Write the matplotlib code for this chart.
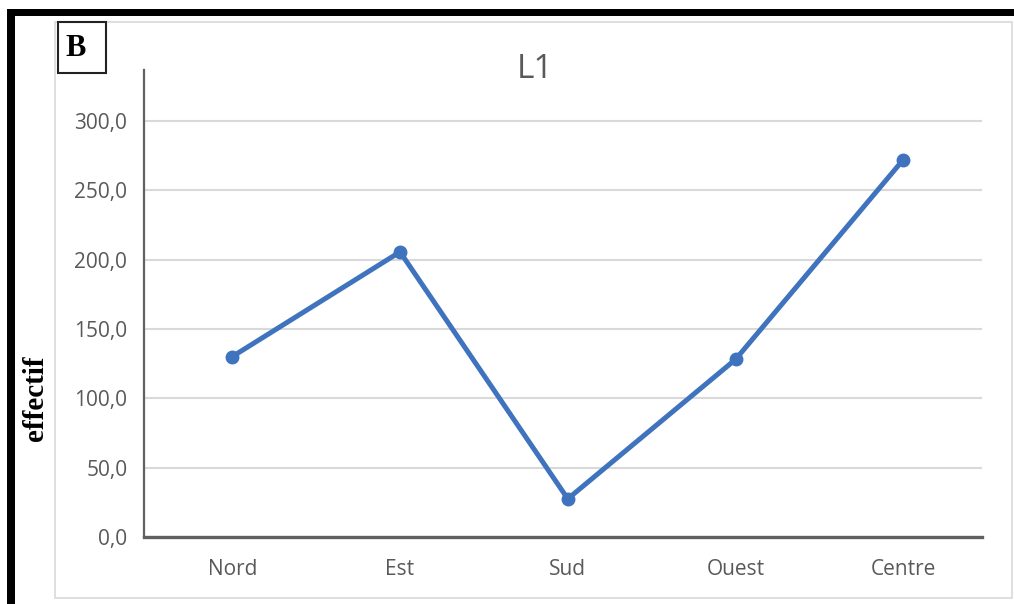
import matplotlib
matplotlib.use("Agg")
import matplotlib.pyplot as plt
from matplotlib.patches import Rectangle
from matplotlib.ticker import FuncFormatter

regions = ["Nord", "Est", "Sud", "Ouest", "Centre"]
effectif = [130, 205.5, 27.5, 128, 272]
y_ticks = [0, 50, 100, 150, 200, 250, 300]

W, H = 1014, 604
fig = plt.figure(figsize=(W / 100, H / 100), dpi=100)


def px(x0, y0, x1, y1):
    # pixel box (top-left origin) -> figure fraction rect
    return (x0 / W, 1 - y1 / H, (x1 - x0) / W, (y1 - y0) / H)


# axes placed on the pixel grid of the reference
l, b, w, h = px(144, 70, 982, 537)
ax = fig.add_axes([l, b, w, h])

line_col = "#3f73bd"
ax.plot(range(len(regions)), effectif, color=line_col, lw=3.6,
        marker="o", markersize=9, solid_capstyle="round", zorder=3)

ax.set_xlim(-0.526, 4.469)
ax.set_ylim(0, 336.6)
ax.set_xticks(range(len(regions)))
ax.set_xticklabels(regions)
ax.set_yticks(y_ticks)
ax.yaxis.set_major_formatter(FuncFormatter(lambda v, p: f"{v:.1f}".replace(".", ",")))
ax.grid(axis="y", color="#d9d9d9", lw=1.5)
ax.set_axisbelow(True)

for s in ["top", "right"]:
    ax.spines[s].set_visible(False)
ax.spines["left"].set_color("#606060")
ax.spines["left"].set_linewidth(1.6)
ax.spines["bottom"].set_color("#606060")
ax.spines["bottom"].set_linewidth(2.4)

ax.tick_params(length=0, labelsize=15, labelcolor="#595959")
ax.tick_params(axis="y", pad=12)
ax.tick_params(axis="x", pad=15.5)
for t in ax.get_xticklabels() + ax.get_yticklabels():
    t.set_fontfamily("Open Sans")

# title sits left of the axes centre in the reference
fig.text(535 / W, 1 - 70 / H, "L1", ha="center", va="center",
         fontsize=24, color="#595959", family="Open Sans")

fig.text(35 / W, 1 - 398 / H, "effectif", rotation=90, ha="center", va="center",
         family="Liberation Serif", fontweight="bold", fontsize=21)

# frame decorations
fig.add_artist(Rectangle(px(55, 22, 1012, 598)[:2], *px(55, 22, 1012, 598)[2:],
                         transform=fig.transFigure, fill=False, ec="#d9d9d9", lw=1.2))
fig.add_artist(Rectangle(px(7, 9, W, 16)[:2], *px(7, 9, W, 16)[2:],
                         transform=fig.transFigure, color="black", lw=0))
fig.add_artist(Rectangle(px(7, 9, 15, H)[:2], *px(7, 9, 15, H)[2:],
                         transform=fig.transFigure, color="black", lw=0))

# panel letter box
fig.add_artist(Rectangle(px(58, 22, 106, 73)[:2], *px(58, 22, 106, 73)[2:],
                         transform=fig.transFigure, fill=False, ec="#222222", lw=1.5))
fig.text(65 / W, 1 - 48 / H, "B", ha="left", va="center",
         family="Liberation Serif", fontweight="bold", fontsize=22)

fig.savefig("out.png", dpi=100)
